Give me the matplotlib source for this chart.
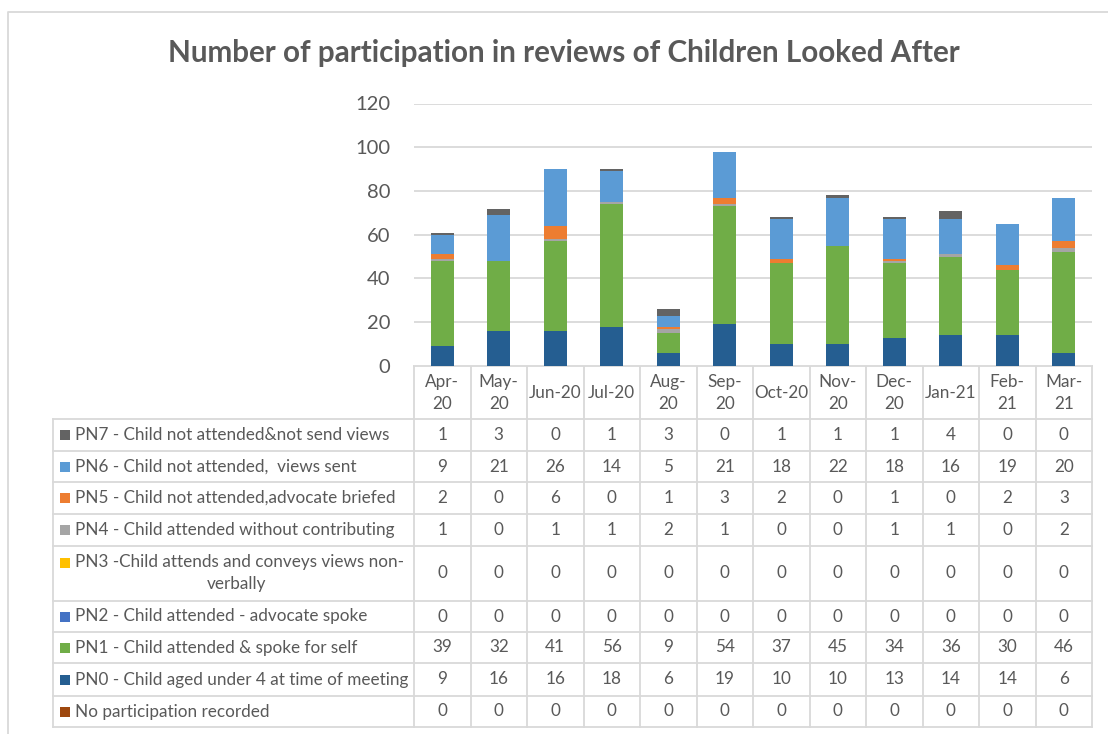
import matplotlib.pyplot as plt
import numpy as np

months = ["Apr-\n20", "May-\n20", "Jun-20", "Jul-20", "Aug-\n20", "Sep-\n20",
          "Oct-20", "Nov-\n20", "Dec-\n20", "Jan-21", "Feb-\n21", "Mar-\n21"]

# series, bottom of stack first
no_part = [0, 0, 0, 0, 0, 0, 0, 0, 0, 0, 0, 0]
pn0 = [9, 16, 16, 18, 6, 19, 10, 10, 13, 14, 14, 6]
pn1 = [39, 32, 41, 56, 9, 54, 37, 45, 34, 36, 30, 46]
pn2 = [0, 0, 0, 0, 0, 0, 0, 0, 0, 0, 0, 0]
pn3 = [0, 0, 0, 0, 0, 0, 0, 0, 0, 0, 0, 0]
pn4 = [1, 0, 1, 1, 2, 1, 0, 0, 1, 1, 0, 2]
pn5 = [2, 0, 6, 0, 1, 3, 2, 0, 1, 0, 2, 3]
pn6 = [9, 21, 26, 14, 5, 21, 18, 22, 18, 16, 19, 20]
pn7 = [1, 3, 0, 1, 3, 0, 1, 1, 1, 4, 0, 0]

labels = ["No participation recorded",
          "PN0 - Child aged under 4 at time of meeting",
          "PN1 - Child attended & spoke for self",
          "PN2 - Child attended - advocate spoke",
          "PN3 -Child attends and conveys views non-\nverbally",
          "PN4 - Child attended without contributing",
          "PN5 - Child not attended,advocate briefed",
          "PN6 - Child not attended,  views sent",
          "PN7 - Child not attended&not send views"]
colors = ["#9E480E", "#255E91", "#70AD47", "#4472C4", "#FFC000",
          "#A5A5A5", "#ED7D31", "#5B9BD5", "#636363"]
series = [no_part, pn0, pn1, pn2, pn3, pn4, pn5, pn6, pn7]

txt = "#595959"
grid = "#D9D9D9"
fs = 12.3
plt.rcParams['font.family'] = ['Lato', 'DejaVu Sans']

W, H = 1108, 734
fig = plt.figure(figsize=(W / 100, H / 100), dpi=100)

# chart border
bg = fig.add_axes([0, 0, 1, 1])
bg.set_xlim(0, W)
bg.set_ylim(H, 0)
bg.axis("off")
bg.plot([8, 8, W + 5], [H + 5, 12, 12], color=grid, lw=1.3)

fig.text(564 / W, 1 - 53 / H, "Number of participation in reviews of Children Looked After",
         ha="center", va="center", fontsize=21.3, fontweight="bold", color=txt)

# plot area
x0, x1, ytop, ybot = 414, 1092, 103.5, 366
ax = fig.add_axes([x0 / W, 1 - ybot / H, (x1 - x0) / W, (ybot - ytop) / H])
x = np.arange(len(months))
bottom = np.zeros(len(months))
for vals, c in zip(series, colors):
    ax.bar(x, vals, 0.4, bottom=bottom, color=c, linewidth=0)
    bottom += np.array(vals)
ax.set_xlim(-0.5, len(months) - 0.5)
ax.set_ylim(0, 120)
ax.set_yticks(range(0, 121, 20))
ax.yaxis.grid(True, color=grid, lw=1.3)
ax.set_axisbelow(True)
for s in ax.spines.values():
    s.set_visible(False)
ax.set_xticks([])
ax.tick_params(axis="y", length=0, labelsize=14.5, labelcolor=txt, pad=17)

# data table
cw = (x1 - x0) / len(months)
row_tops = [419, 451, 482, 514, 546, 601, 632, 663, 696]
row_bots = row_tops[1:] + [727]
tl = 53
bg.plot([x0, x1], [366, 366], color=grid, lw=1.3)
for i in range(len(months) + 1):
    bg.plot([x0 + i * cw] * 2, [366, 727], color=grid, lw=1.3)
bg.plot([tl, tl], [419, 727], color=grid, lw=1.3)
for y in row_tops + [727]:
    bg.plot([tl, x1], [y, y], color=grid, lw=1.3)
for i, m in enumerate(months):
    bg.text(x0 + (i + 0.5) * cw, 393, m, ha="center", va="center",
            fontsize=fs, color=txt, linespacing=1.45)

for r, k in enumerate(range(len(series) - 1, -1, -1)):
    yc = (row_tops[r] + row_bots[r]) / 2
    lab = labels[k]
    if "\n" in lab:
        l1, l2 = lab.split("\n")
        bg.add_patch(plt.Rectangle((60, yc - 16), 10, 10, color=colors[k], lw=0))
        bg.text(75, yc - 11, l1, ha="left", va="center", fontsize=fs, color=txt)
        bg.text(237, yc + 11, l2, ha="center", va="center", fontsize=fs, color=txt)
    else:
        bg.add_patch(plt.Rectangle((60, yc - 5), 10, 10, color=colors[k], lw=0))
        bg.text(75, yc, lab, ha="left", va="center", fontsize=fs, color=txt)
    for i, v in enumerate(series[k]):
        bg.text(x0 + (i + 0.5) * cw, yc, str(v), ha="center", va="center",
                fontsize=fs, color=txt)

fig.savefig("out.png", dpi=100)
